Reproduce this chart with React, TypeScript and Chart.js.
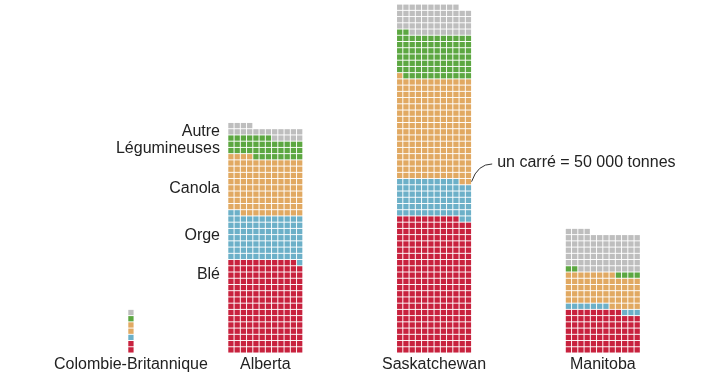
import React, { useEffect, useRef } from "react";
import { Chart, registerables } from "chart.js";

Chart.register(...registerables);

// ---- data (one square = 50 000 tonnes) ----
const provinces = ["Colombie-Britannique", "Alberta", "Saskatchewan", "Manitoba"];
const categories = ["Blé", "Orge", "Canola", "Légumineuses", "Autre"];
const wheat = [2, 179, 262, 81];
const barley = [1, 87, 72, 10];
const canola = [2, 110, 195, 61];
const pulses = [1, 39, 85, 6];
const other = [1, 21, 56, 74];
const columnsPerProvince = [1, 12, 12, 12];
const noteText = "un carré = 50 000 tonnes";

const seriesValues = [wheat, barley, canola, pulses, other];

// ---- styles / layout ----
const colors = ["#c8223e", "#6cb0c8", "#e1a962", "#5ca741", "#bebebe"];
const FONT = '16px "Liberation Sans", Arial, Helvetica, sans-serif';
const TEXT_COLOR = "#222222";
const FIRST_START = 20;
const GROUP_GAP = 15;
const X_MIN = -0.45;
const X_MAX = 114.75;
const Y_MIN = 0;
const Y_MAX = 56.66;
const AXIS_H = 20;
const CELL_SIDE = 5.3;
const LABEL_PROVINCE = 1;
const LABEL_OFFSET = 1.25;
const labelRows = [12.55, 18.85, 26.35, 32.75, 35.6];
const NOTE_PROVINCE = 2;
const NOTE_DX = 4.1;
const NOTE_Y = 30.5;

const starts: number[] = [];
{
  let s = FIRST_START;
  columnsPerProvince.forEach((c) => {
    starts.push(s);
    s += c + GROUP_GAP;
  });
}

function buildDatasets() {
  return categories.map((cat, ci) => {
    const data: { x: number; y: number }[] = [];
    provinces.forEach((_p, pi) => {
      const cols = columnsPerProvince[pi];
      let offset = 0;
      for (let k = 0; k < ci; k++) offset += seriesValues[k][pi];
      for (let n = 0; n < seriesValues[ci][pi]; n++) {
        const idx = offset + n;
        const row = Math.floor(idx / cols);
        const col = idx % cols;
        data.push({ x: starts[pi] + col + 0.5, y: row + 0.5 });
      }
    });
    return {
      label: cat,
      data,
      backgroundColor: colors[ci],
      borderWidth: 0,
      pointStyle: "rect" as const,
      pointRadius: CELL_SIDE / Math.SQRT2,
      pointHoverRadius: CELL_SIDE / Math.SQRT2,
      showLine: false,
    };
  });
}

const textPlugin = {
  id: "waffleText",
  afterDatasetsDraw(chart: any) {
    const { ctx, scales } = chart;
    const xs = scales.x;
    const ys = scales.y;
    ctx.save();
    ctx.font = FONT;
    ctx.fillStyle = TEXT_COLOR;
    ctx.textAlign = "right";
    ctx.textBaseline = "middle";
    const lx = xs.getPixelForValue(starts[LABEL_PROVINCE] - LABEL_OFFSET);
    categories.forEach((c, i) => {
      ctx.fillText(c, lx, ys.getPixelForValue(labelRows[i]));
    });

    // note + leader line
    const pi = NOTE_PROVINCE;
    const cols = columnsPerProvince[pi];
    const anchorRow = Math.floor((wheat[pi] + barley[pi]) / cols) + 0.5;
    const ax = xs.getPixelForValue(starts[pi] + cols);
    const ay = ys.getPixelForValue(anchorRow);
    const tx = xs.getPixelForValue(starts[pi] + cols + NOTE_DX);
    const ty = ys.getPixelForValue(NOTE_Y);
    ctx.strokeStyle = "#333333";
    ctx.lineWidth = 1;
    ctx.beginPath();
    ctx.moveTo(ax, ay);
    ctx.quadraticCurveTo(ax + 6, ty + 1, tx - 5, ty + 1);
    ctx.stroke();
    ctx.textAlign = "left";
    ctx.fillText(noteText, tx, ty);
    ctx.restore();
  },
};

export default function App() {
  const ref = useRef<HTMLCanvasElement | null>(null);
  useEffect(() => {
    if (!ref.current) return;
    const centers = provinces.map((_p, i) => starts[i] + columnsPerProvince[i] / 2);
    const chart = new Chart(ref.current, {
      type: "scatter",
      data: { datasets: buildDatasets() as any },
      options: {
        animation: false,
        responsive: false,
        events: [],
        layout: { padding: 0, autoPadding: false },
        plugins: { legend: { display: false }, tooltip: { enabled: false } },
        scales: {
          x: {
            type: "linear",
            min: X_MIN,
            max: X_MAX,
            grid: { display: false, drawTicks: false },
            border: { display: false },
            afterBuildTicks: (axis: any) => {
              axis.ticks = centers.map((v) => ({ value: v }));
            },
            afterFit: (axis: any) => {
              axis.height = AXIS_H;
            },
            ticks: {
              autoSkip: false,
              maxRotation: 0,
              padding: 2,
              color: TEXT_COLOR,
              font: { family: '"Liberation Sans", Arial, Helvetica, sans-serif', size: 16 },
              callback: (_v: any, i: number) => provinces[i],
            },
          },
          y: {
            type: "linear",
            display: false,
            min: Y_MIN,
            max: Y_MAX,
          },
        },
      },
      plugins: [textPlugin],
    });
    return () => chart.destroy();
  }, []);
  return (
    <div style={{ position: "absolute", left: 0, top: 0, width: 720, height: 373, background: "#ffffff" }}>
      <canvas ref={ref} width={720} height={373} style={{ display: "block" }} />
    </div>
  );
}
